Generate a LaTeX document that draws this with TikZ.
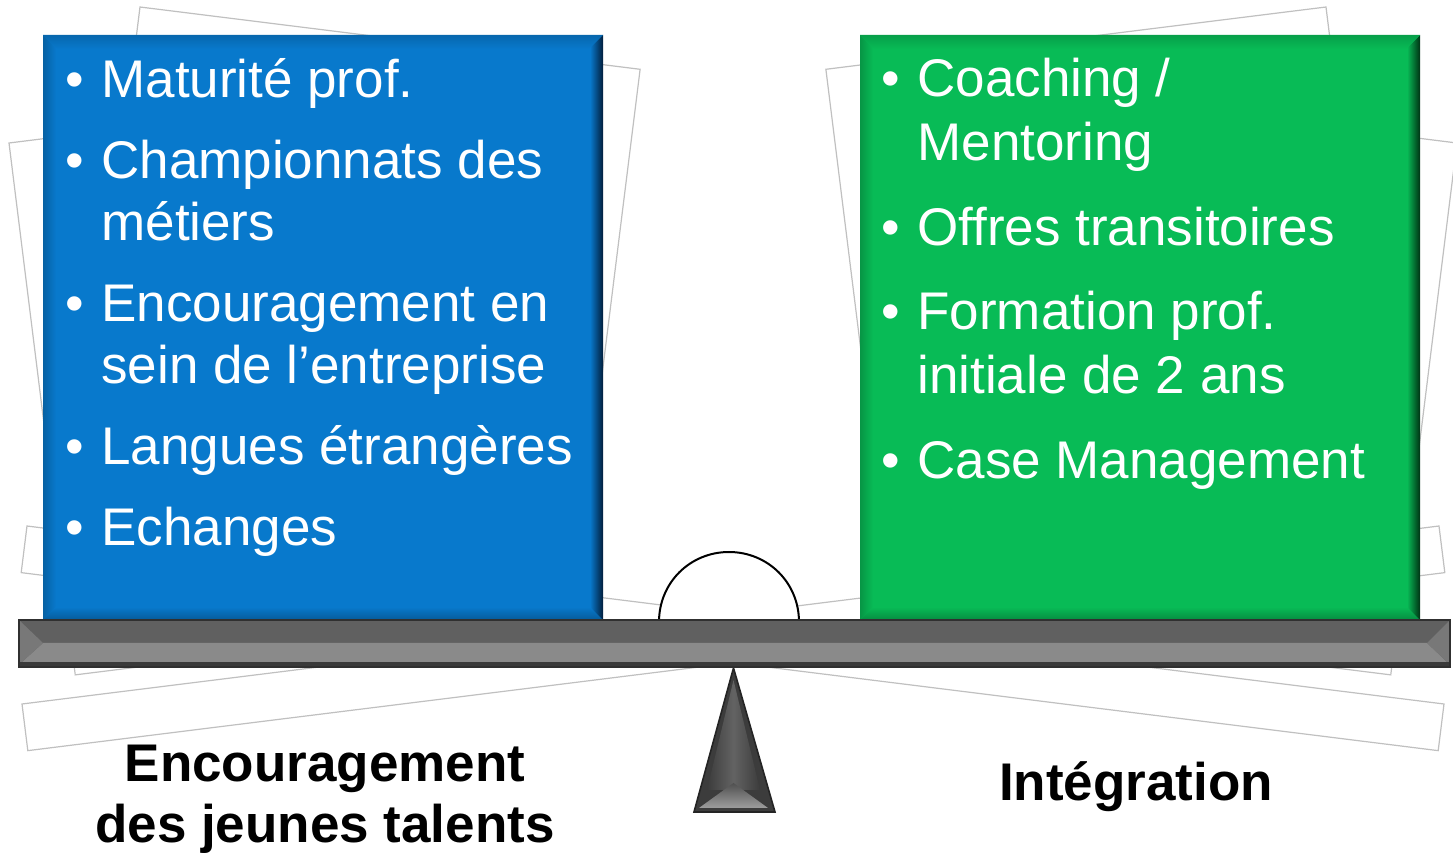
\documentclass[tikz,border=0pt]{standalone}
\usepackage{fontspec}
\setmainfont{Liberation Sans}
\definecolor{boxblue}{RGB}{8,121,204}
\definecolor{boxbluelt}{RGB}{60,172,244}
\definecolor{boxbluedk}{RGB}{2,30,60}
\definecolor{boxgreen}{RGB}{8,187,86}
\definecolor{boxgreenlt}{RGB}{70,236,142}
\definecolor{boxgreendk}{RGB}{0,50,20}
\definecolor{papergray}{RGB}{192,192,192}
\definecolor{beamgray}{RGB}{96,96,96}
\definecolor{beammd}{RGB}{138,138,138}
\definecolor{beamlt}{RGB}{168,168,168}
\definecolor{fulcrumgray}{RGB}{60,60,60}
\tikzset{
  paper/.style={draw=papergray, fill=white, line width=0.6pt},
  item/.style={anchor=base west, inner sep=0pt, text=white},
  caption/.style={anchor=base, inner sep=0pt, font=\bfseries\fontsize{26.5}{30.5}\selectfont},
}
\newcommand{\puce}[1]{\hangindent=18pt\hangafter=1\noindent\makebox[18pt][l]{•}#1\par}
\newcommand{\bevelbox}[2]{%
  \fill[#2] (#1,35) rectangle ++(560,585);
  \shade[left color=#2!80!black, right color=#2] (#1,35) -- ++(13,13) -- ++(0,559) -- ++(-13,13) -- cycle;
  \shade[top color=#2, bottom color=#2!75!black] (#1,620) -- ++(13,-13) -- ++(534,0) -- ++(13,13) -- cycle;
  \shade[left color=#2, right color=#2dk] (#1+560,35) -- ++(0,585) -- ++(-13,-13) -- ++(0,-559) -- cycle;
  \shade[top color=#2!85!black, middle color=#2lt, bottom color=#2] (#1,35) -- ++(560,0) -- ++(-14,14) -- ++(-532,0) -- cycle;
}
\begin{document}
\begin{tikzpicture}[x=0.5pt, y=-0.5pt]
\pgfmathsetmacro{\tilt}{7.1}
\useasboundingbox (0,0) rectangle (1453,855);
\foreach \s/\o in {1/0,-1/1466}{
\begin{scope}[shift={(\o,0)}, xscale=\s]
\filldraw[paper] (9,143) -- ++(-\tilt:500) -- ++(90-\tilt:536) -- ++(180-\tilt:500) -- cycle;
\filldraw[paper] (140,7) -- ++(\tilt:504) -- ++(90+\tilt:450) -- ++(180+\tilt:504) -- cycle;
\filldraw[paper] (27,526) -- ++(\tilt:700) -- ++(90+\tilt:47) -- ++(180+\tilt:700) -- cycle;
\filldraw[paper] (22,704) -- ++(-\tilt:700) -- ++(90-\tilt:47) -- ++(180-\tilt:700) -- cycle;
\end{scope}}
\bevelbox{43}{boxblue}
\bevelbox{860}{boxgreen}
\draw[fill=white, line width=1pt] (659,622) .. controls (659,582.4) and (690.3,552) .. (729,552) .. controls (767.7,552) and (799,582.4) .. (799,622);
\fill[fulcrumgray] (733.5,668) -- (775,812) -- (694,812) -- cycle;
\shade[left color=fulcrumgray, right color=fulcrumgray, middle color=fulcrumgray!80!white] (733.5,680) -- (760,790) -- (707,790) -- cycle;
\shade[top color=fulcrumgray!90!white, bottom color=fulcrumgray!50!white] (733.5,783) -- (768,808) -- (699,808) -- cycle;
\draw[fulcrumgray!60!black, line width=0.8pt] (733.5,668) -- (775,812) -- (694,812) -- cycle;
\fill[beamgray] (19,620) rectangle (1450,667);
\shade[top color=beammd, middle color=beamlt, bottom color=beammd] (43,643) -- (1427,643) -- (1447,662) -- (22,662) -- cycle;
\fill[beamgray!85!white] (19,620) -- (43,643) -- (22,662) -- (19,667) -- cycle;
\fill[beamgray!85!white] (1450,620) -- (1427,643) -- (1447,662) -- (1450,667) -- cycle;
\fill[beamgray!60!black] (19,662) rectangle (1450,667);
\draw[beamgray!50!black, line width=0.8pt] (19,620) rectangle (1450,667);
\node[item] (gauche) at (65,97.5) {\parbox[t]{290pt}{\fontsize{26.5}{31}\selectfont\setlength{\parskip}{9.5pt}%
\puce{Maturité prof.}
\puce{Championnats des\\métiers}
\puce{Encouragement en\\sein de l’entreprise}
\puce{Langues étrangères}
\puce{Echanges}}};
\node[item] (droite) at (881,97) {\parbox[t]{270pt}{\fontsize{26.5}{31.75}\selectfont\setlength{\parskip}{10.6pt}%
\puce{Coaching /\\Mentoring}
\puce{Offres transitoires}
\puce{Formation prof.\\initiale de 2 ans}
\puce{Case Management}}};
\node[caption] (jeunes) at (325,782) {\parbox[t]{300pt}{\centering\fontsize{26.5}{30.5}\selectfont Encouragement\\des jeunes talents}};
\node[caption] (integration) at (1136,800) {Intégration};
\end{tikzpicture}
\end{document}
